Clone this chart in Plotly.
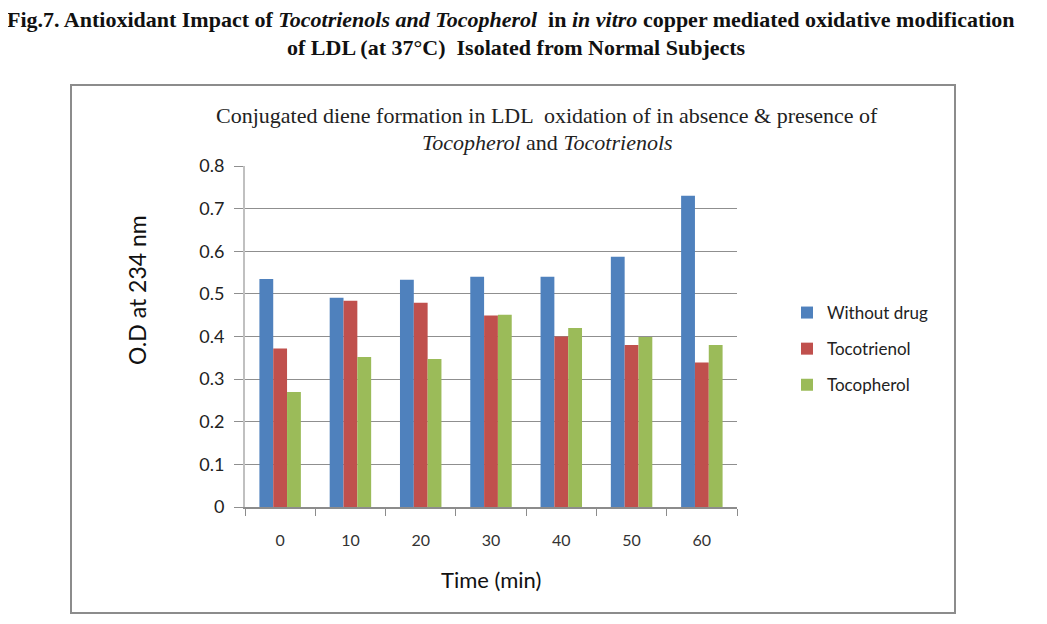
import plotly.graph_objects as go

times = ["0", "10", "20", "30", "40", "50", "60"]
without_drug = [0.535, 0.491, 0.533, 0.540, 0.540, 0.587, 0.730]
tocotrienol = [0.372, 0.484, 0.479, 0.449, 0.400, 0.380, 0.339]
tocopherol = [0.270, 0.352, 0.347, 0.451, 0.420, 0.399, 0.380]
series_names = ["Without drug", "Tocotrienol", "Tocopherol"]
colors = ["#4F81BD", "#C0504D", "#9BBB59"]
y_tick_vals = [0, 0.1, 0.2, 0.3, 0.4, 0.5, 0.6, 0.7, 0.8]
y_tick_text = ["0", "0.1", "0.2", "0.3", "0.4", "0.5", "0.6", "0.7", "0.8"]

W, H = 1047, 624
OFF = 8  # page body offset
L, R, T, B = 245, 737, 166, 507


def px(x):
    return (x - L) / (R - L)


def py(y):
    return (B - y) / (B - T)


fig = go.Figure()
for i, (name, vals) in enumerate(zip(series_names, [without_drug, tocotrienol, tocopherol])):
    fig.add_trace(go.Bar(x=times, y=vals, name=name, marker_color=colors[i],
                         marker_line_width=0, legendgroup=name))

fig.update_layout(
    width=W, height=H,
    margin=dict(l=L - OFF, r=W - (R - OFF), t=T - OFF, b=H - (B - OFF), autoexpand=False),
    paper_bgcolor="white", plot_bgcolor="white",
    barmode="group", bargap=0.41, bargroupgap=0,
    showlegend=True,
    legend=dict(x=px(787), y=py(295), xanchor="left", yanchor="top",
                font=dict(family="Lato", size=17, color="#222"),
                traceorder="grouped", tracegroupgap=11, itemwidth=30,
                bgcolor="rgba(0,0,0,0)"),
    xaxis=dict(type="category", showgrid=False, showline=True, linecolor="#8c8c8c",
               linewidth=2, ticks="outside", tickson="boundaries", ticklen=7,
               tickcolor="#8c8c8c", tickfont=dict(family="Lato", size=16, color="#333"),
               ticklabelstandoff=18),
    yaxis=dict(range=[0, 0.8], tickvals=y_tick_vals, ticktext=y_tick_text, showgrid=True,
               gridcolor="#8f8f8f", gridwidth=1, showline=True, linecolor="#c0c0c0",
               linewidth=2, ticks="outside", ticklen=9, tickcolor="#8f8f8f",
               tickfont=dict(family="Lato", size=18, color="#222"), zeroline=False,
               ticklabelstandoff=6),
)

# outer chart border
fig.add_shape(type="rect", xref="paper", yref="paper",
              x0=px(71), x1=px(955), y0=py(613), y1=py(85),
              line=dict(color="#8c8c8c", width=2), fillcolor="rgba(0,0,0,0)", layer="below")

# figure caption
fig.add_annotation(xref="paper", yref="paper", x=px(511), y=py(20), xanchor="center", yanchor="middle",
                   showarrow=False,
                   text="<b>Fig.7. Antioxidant Impact of <i>Tocotrienols and Tocopherol</i>  in <i>in vitro</i> copper mediated oxidative modification</b>",
                   font=dict(family="Liberation Serif", size=22, color="#111"))
fig.add_annotation(xref="paper", yref="paper", x=px(516), y=py(47), xanchor="center", yanchor="middle",
                   showarrow=False,
                   text="<b>of LDL (at 37°C)  Isolated from Normal Subjects</b>",
                   font=dict(family="Liberation Serif", size=22, color="#111"))

# chart title
fig.add_annotation(xref="paper", yref="paper", x=px(547), y=py(116), xanchor="center", yanchor="middle",
                   showarrow=False,
                   text="Conjugated diene formation in LDL  oxidation of in absence &amp; presence of",
                   font=dict(family="Liberation Serif", size=22, color="#222"))
fig.add_annotation(xref="paper", yref="paper", x=px(547), y=py(142), xanchor="center", yanchor="middle",
                   showarrow=False,
                   text="<i>Tocopherol</i> and <i>Tocotrienols</i>",
                   font=dict(family="Liberation Serif", size=22, color="#222"))

# axis titles
fig.add_annotation(xref="paper", yref="paper", x=px(137), y=py(290), xanchor="center", yanchor="middle",
                   showarrow=False, textangle=-90, text="O.D at 234 nm",
                   font=dict(family="Lato", size=23, color="#111"))
fig.add_annotation(xref="paper", yref="paper", x=px(491), y=py(579), xanchor="center", yanchor="middle",
                   showarrow=False, text="Time (min)",
                   font=dict(family="Lato", size=22, color="#111"))

fig.write_html("out.html")
